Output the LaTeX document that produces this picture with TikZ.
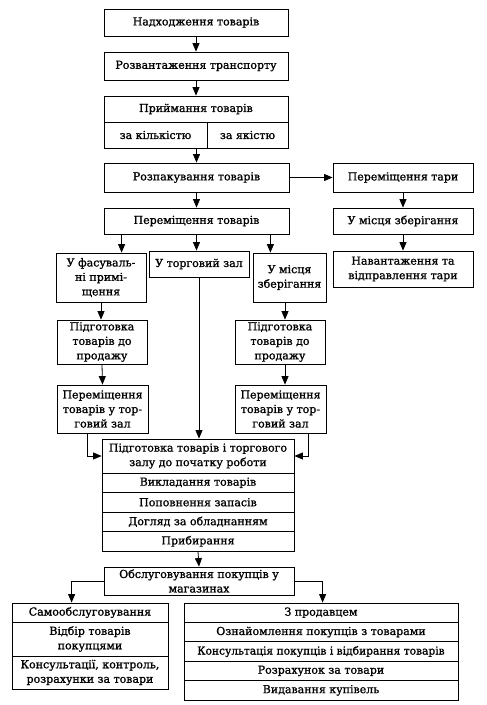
\documentclass[tikz,border=0pt]{standalone}
\usepackage{fontspec}
\usepackage{graphicx}
\setmainfont{DejaVu Serif}
\newfontfamily\boxfont{DejaVu Serif}[FakeBold=1.2]
\usetikzlibrary{arrows.meta,calc}

\begin{document}
\begin{tikzpicture}[x=1pt,y=-1pt,
  box/.style={draw, line width=0.8pt, align=center, inner sep=1pt,
    font=\boxfont\fontsize{11}{14.5}\selectfont},
  arr/.style={-{Triangle[length=8.5pt,width=7pt]}, line width=0.8pt}]
  \useasboundingbox (0,0) rectangle (487,705);
  % receiving and acceptance
  \node[box, minimum width=184, minimum height=27] (recv) at (196,22.5) {Надходження товарів};
  \node[box, minimum width=184, minimum height=28] (unload) at (196,66) {Розвантаження транспорту};
  \node[box, minimum width=184, minimum height=26] (accept) at (196,109) {Приймання товарів};
  \node[box, minimum width=103, minimum height=26] (byqty) at (155.5,135) {за кількістю};
  \node[box, minimum width=81, minimum height=26] (byqual) at (247.5,135) {за якістю};
  \node[box, minimum width=185, minimum height=29] (unpack) at (196.5,177.5) {Розпакування товарів};
  % tare
  \node[box, minimum width=140, minimum height=29] (tara) at (403,177.5) {Переміщення тари};
  \node[box, minimum width=140, minimum height=26] (tarast) at (403,221) {У місця зберігання};
  \node[box, minimum width=140, minimum height=36] (taraship) at (403,269) {Навантаження та\\відправлення тари};
  % goods movement
  \node[box, minimum width=185, minimum height=26] (move) at (196.5,221) {Переміщення товарів};
  \node[box, minimum width=90, minimum height=49] (pack) at (101,277.5) {У фасуваль-\\ні примі-\\щення};
  \node[box, minimum width=100, minimum height=26] (hall) at (199,264) {У торговий зал};
  \node[box, minimum width=73, minimum height=49] (store) at (289.5,277.5) {У місця\\зберігання};
  \node[box, minimum width=90, minimum height=44] (prepL) at (102,342) {Підготовка\\товарів до\\продажу};
  \node[box, minimum width=90, minimum height=44] (prepR) at (280,342) {Підготовка\\товарів до\\продажу};
  \node[box, minimum width=91, minimum height=48] (moveL) at (102.5,409) {Переміщення\\товарів у тор-\\говий зал};
  \node[box, minimum width=91, minimum height=48] (moveR) at (280.5,409) {Переміщення\\товарів у тор-\\говий зал};
  % sales floor
  \node[box, minimum width=192, minimum height=34] (ready) at (198,456) {Підготовка товарів і торгового\\залу до початку роботи};
  \node[box, minimum width=192, minimum height=19.5] (lay) at (198,482.75) {Викладання товарів};
  \node[box, minimum width=192, minimum height=19.5] (refill) at (198,502.25) {Поповнення запасів};
  \node[box, minimum width=192, minimum height=19.5] (care) at (198,521.75) {Догляд за обладнанням};
  \node[box, minimum width=192, minimum height=19.5] (clean) at (198,541.25) {Прибирання};
  \node[box, minimum width=190, minimum height=28] (serve) at (199,581) {Обслуговування покупців у\\магазинах};
  % self-service
  \node[box, minimum width=156, minimum height=19] (selfA) at (90,612.5) {Самообслуговування};
  \node[box, minimum width=156, minimum height=34] (selfB) at (90,639) {Відбір товарів\\покупцями};
  \node[box, minimum width=156, minimum height=33] (selfC) at (90,672.5) {Консультації, контроль,\\розрахунки за товари};
  % with a salesperson
  \node[box, minimum width=274, minimum height=19.4] (sellA) at (321,612.7) {З продавцем};
  \node[box, minimum width=274, minimum height=19.4] (sellB) at (321,632.1) {Ознайомлення покупців з товарами};
  \node[box, minimum width=274, minimum height=19.4] (sellC) at (321,651.5) {\scalebox{0.97}[1]{Консультація покупців і відбирання товарів}};
  \node[box, minimum width=274, minimum height=19.4] (sellD) at (321,670.9) {Розрахунок за товари};
  \node[box, minimum width=274, minimum height=19.4] (sellE) at (321,690.3) {Видавання купівель};

  \draw[arr] (recv.south) -- (unload.north);
  \draw[arr] (unload.south) -- (accept.north);
  \draw[arr] (unpack.north |- byqty.south) -- (unpack.north);
  \draw[arr] (unpack.east) -- (tara.west);
  \draw[arr] (tara.south) -- (tarast.north);
  \draw[arr] (tarast.south) -- (taraship.north);
  \draw[arr] (unpack.south) -- (move.north);
  \coordinate (mL) at ($(move.south west)+(18,0)$);
  \coordinate (mR) at ($(move.south east)+(-19,0)$);
  \draw[arr] (mL) -- (mL |- pack.north);
  \draw[arr] (move.south) -- (move.south |- hall.north);
  \draw[arr] (mR) -- (mR |- store.north);
  \draw[arr] (pack.south) -- (pack.south |- prepL.north);
  \coordinate (sR) at ($(store.south)+(-4.5,0)$);
  \draw[arr] (sR) -- (sR |- prepR.north);
  \draw[arr] (prepL.south) -- (moveL.north);
  \coordinate (pR) at ($(prepR.south)+(5,0)$);
  \draw[arr] (pR) -- (pR |- moveR.north);
  \draw[arr] (hall.south) -- (hall.south |- ready.north);
  \coordinate (jL) at ($(moveL.south)+(-15.5,0)$);
  \coordinate (jR) at ($(moveR.south)+(27.5,0)$);
  \draw[arr] (jL) |- (ready.west);
  \draw[arr] (jR) |- (ready.east);
  \draw[arr] (clean.south) -- (serve.north);
  \coordinate (kL) at ($(selfA.north west)+(60,0)$);
  \coordinate (kR) at ($(sellA.north west)+(139,0)$);
  \draw[arr] (serve.west) -| (kL);
  \draw[arr] (serve.east) -| (kR);
\end{tikzpicture}
\end{document}
